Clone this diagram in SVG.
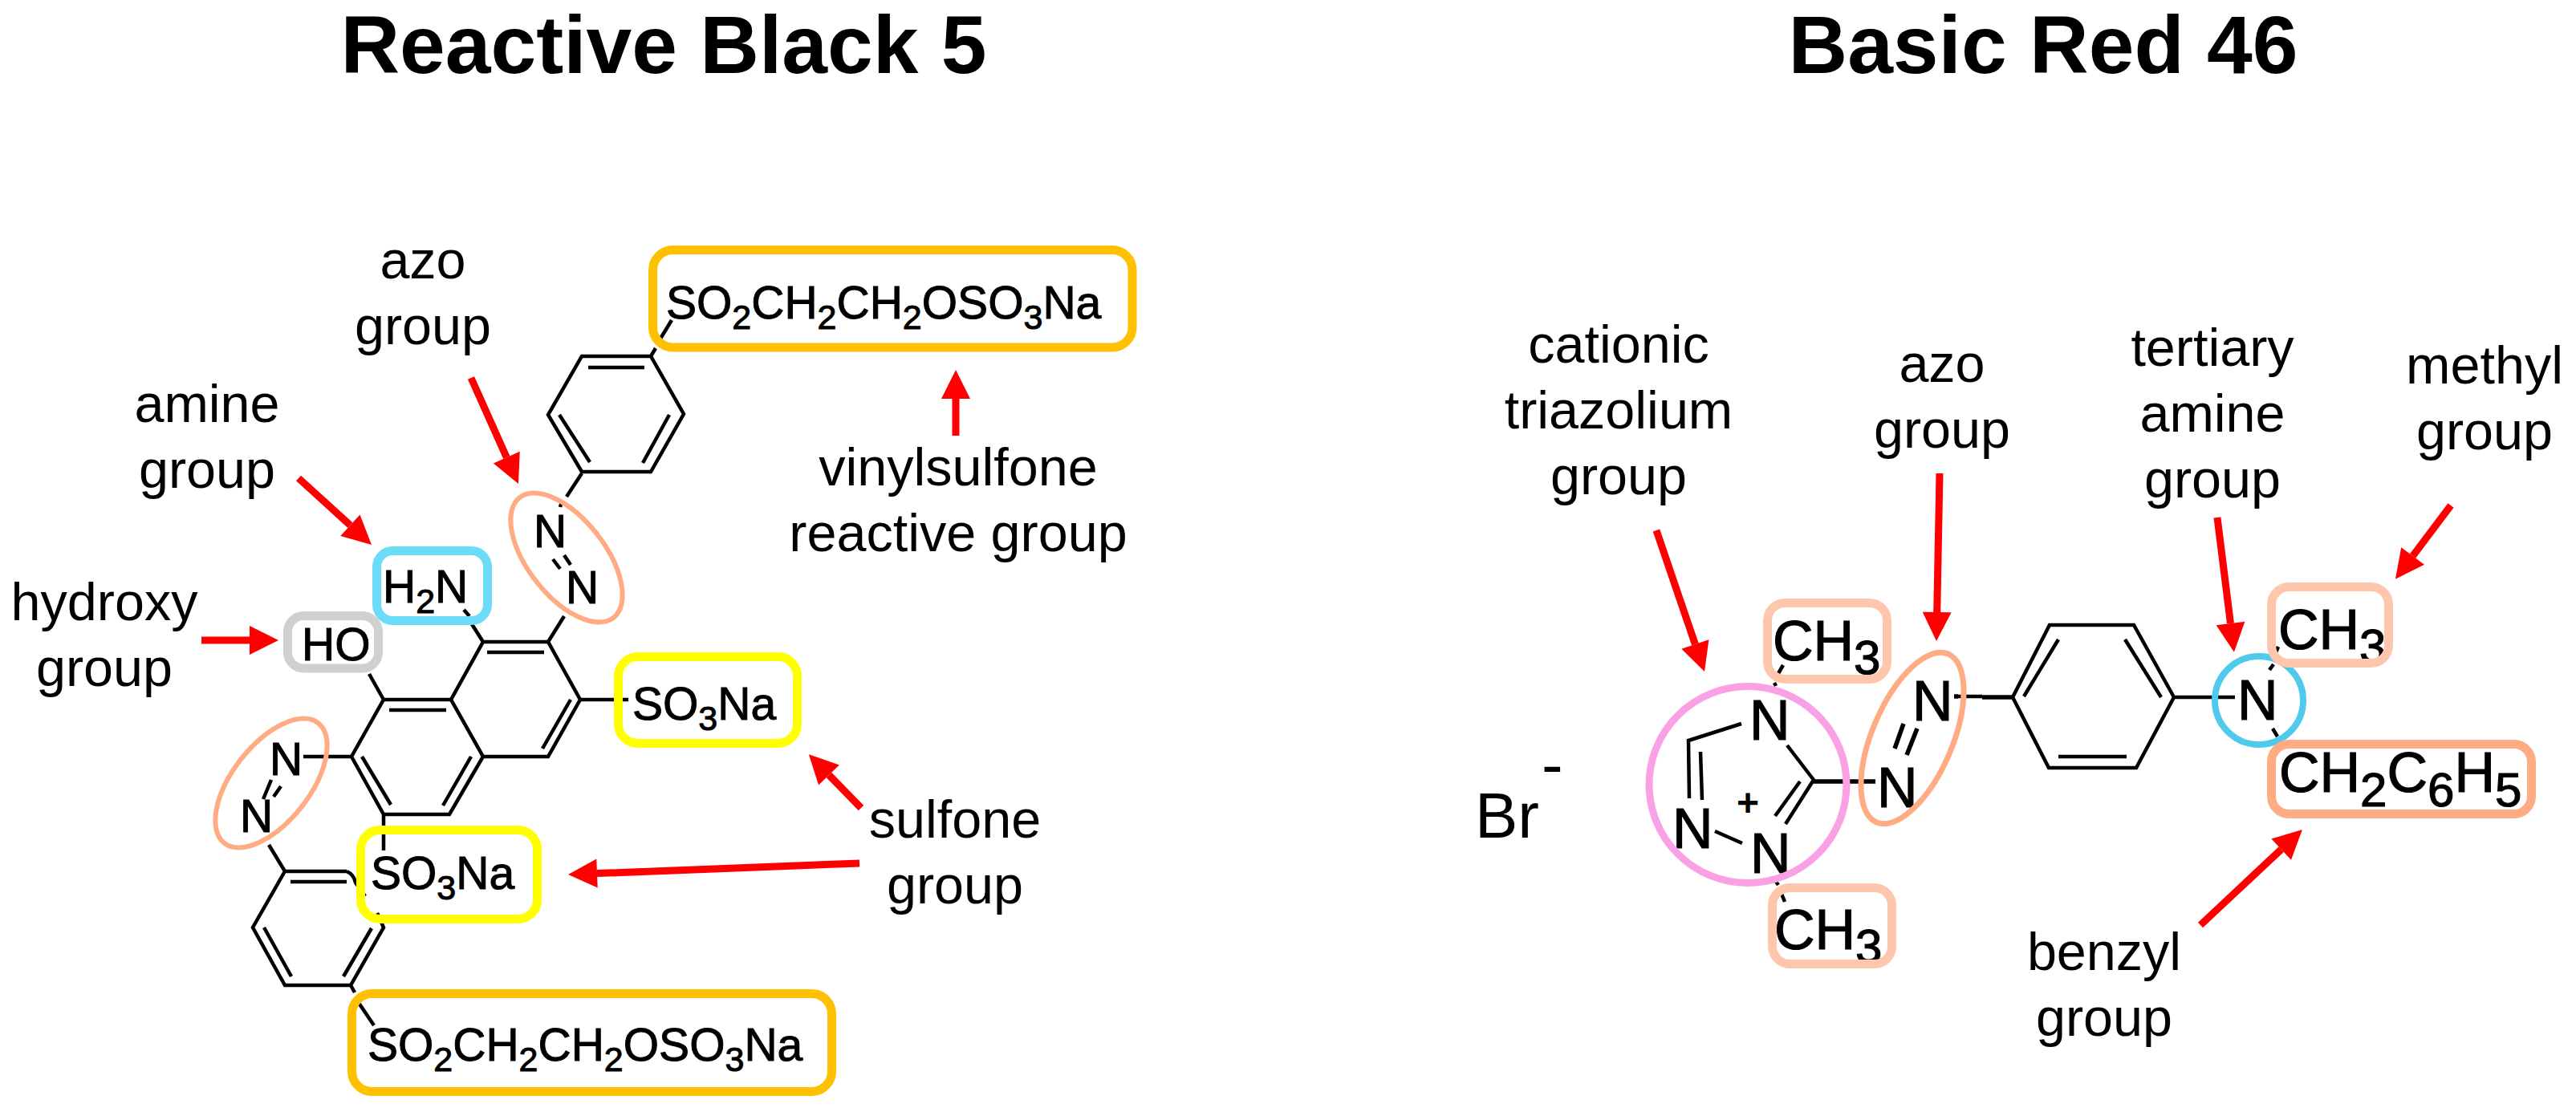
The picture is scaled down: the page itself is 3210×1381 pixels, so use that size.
<svg xmlns="http://www.w3.org/2000/svg" width="3210" height="1381" viewBox="0 0 3210 1381">
<style>
text{font-family:"Liberation Sans",Arial,sans-serif;fill:#000}
.title{font-size:102px;font-weight:700;text-anchor:middle}
.lab{font-size:66.5px;text-anchor:middle}
.m1{font-size:57px;stroke:#000;stroke-width:1}
.m1 tspan.s{font-size:43px}
.m2{font-size:70px;stroke:#000;stroke-width:1.200}
.m2 tspan.s{font-size:60px}
.bond{fill:none;stroke:#000;stroke-width:4.500;stroke-linejoin:miter}
.bold{stroke-width:5.500}
.hl{fill:none;stroke-width:11}
.or{stroke:#FFC000}.ye{stroke:#FFFF00}.bl{stroke:#6BDCF8}.gr{stroke:#D0D0D0}.pe{stroke:#FFC6AE}.ap{stroke:#FFAB84}
.arrow{stroke:#F00;stroke-width:9;fill:none;marker-end:url(#head)}
</style>
<defs>
<marker id="head" markerUnits="userSpaceOnUse" markerWidth="38" markerHeight="36" refX="0" refY="18" orient="auto" overflow="visible"><path d="M0,0L36,18L0,36Z" fill="#F00"/></marker>
</defs>
<rect width="3210" height="1381" fill="#fff"/>
<g id="titles">
<text class="title" x="827" y="91">Reactive Black 5</text>
<text class="title" x="2546" y="91">Basic Red 46</text>
</g>
<g id="bonds-reactive-black">
<path class="bond" d="M725,444H811L852,516L811,588H725L683,517ZM733,458H803M697,517L735,576M834,517L801,577M811,444L817,434M823,422L837,399M725,590L706,619M700,625L698,632M689,697L698,709M703,692L711,704M703,768L683,800"/>
<path class="bond" d="M602,800H683L723,872L683,943H602L562,872ZM607,813H678M711,872L676,933M478,872H562L602,943L560,1015H478L438,943ZM485,885H556M587,943L552,1004M451,943L487,1003M460,840L478,872M578,760L585,768M588,778L602,800M723,872H783M378,943H438M478,1015V1060"/>
<path class="bond" d="M328,996L338,972M341,993L350,980M335,1053L355,1086M432,1086H355L315,1156L355,1228H437L478,1156L470,1138M455,1117L443,1100Q441,1090 432,1086M362,1099H432M329,1156L363,1217M463,1157L428,1217M437,1228L442,1237M447,1250L466,1278"/>
</g>
<g id="bonds-basic-red">
<path class="bond" d="M2222,829L2215,841M2211,851L2213,855M2213,1099L2216,1103M2220,1114L2224,1124M2170,902L2104,923L2105,995M2119,937L2121,997M2137,1036L2171,1051M2227,929L2260,972L2225,1027M2243,974L2212,1017"/>
<path class="bond bold" d="M2260,974H2337M2372,902L2361,933M2389,908L2376,941M2435,868H2440M2470,869H2508"/>
<path class="bond" d="M2440,868H2470M2508,869L2554,779H2659L2709,869L2662,957H2553L2508,869M2565,797L2522,868M2648,797L2693,869M2565,943H2650M2710,869H2757M2757,869H2785M2839,806L2836,813M2828,835L2833,828M2832,908L2838,918"/>
</g>
<g id="rb5-amine"><text class="m1" x="477" y="751">H<tspan class="s" dy="13">2</tspan><tspan dy="-13">N</tspan></text><rect class="hl bl" x="469.500" y="686.500" width="138" height="87" rx="20"/></g>
<g id="rb5-hydroxy"><text class="m1" x="376" y="823">HO</text><rect class="hl gr" x="358.500" y="767.500" width="113" height="65.500" rx="20"/></g>
<g id="rb5-vinylsulfone-top"><text class="m1" x="830" y="397">SO<tspan class="s" dy="13">2</tspan><tspan dy="-13">CH</tspan><tspan class="s" dy="13">2</tspan><tspan dy="-13">CH</tspan><tspan class="s" dy="13">2</tspan><tspan dy="-13">OSO</tspan><tspan class="s" dy="13">3</tspan><tspan dy="-13">Na</tspan></text><rect class="hl or" x="813.500" y="311.500" width="597.500" height="121.500" rx="25"/></g>
<g id="rb5-sulfone-right"><text class="m1" x="788" y="897">SO<tspan class="s" dy="13">3</tspan><tspan dy="-13">Na</tspan></text><rect class="hl ye" x="770.500" y="818.500" width="223" height="108" rx="24"/></g>
<g id="rb5-sulfone-left"><text class="m1" x="462" y="1108">SO<tspan class="s" dy="13">3</tspan><tspan dy="-13">Na</tspan></text><rect class="hl ye" x="449.500" y="1034.500" width="220" height="111" rx="24"/></g>
<g id="rb5-vinylsulfone-bottom"><text class="m1" x="458" y="1322">SO<tspan class="s" dy="13">2</tspan><tspan dy="-13">CH</tspan><tspan class="s" dy="13">2</tspan><tspan dy="-13">CH</tspan><tspan class="s" dy="13">2</tspan><tspan dy="-13">OSO</tspan><tspan class="s" dy="13">3</tspan><tspan dy="-13">Na</tspan></text><rect class="hl or" x="438.500" y="1238.500" width="598" height="122" rx="25"/></g>
<g id="rb5-azo-upper"><text class="m1" x="665" y="682">N</text><text class="m1" x="705" y="752">N</text><ellipse class="ap" cx="706" cy="695" rx="95" ry="48" transform="rotate(52 706 695)" fill="none" stroke-width="6"/></g>
<g id="rb5-azo-lower"><text class="m1" x="336" y="966">N</text><text class="m1" x="299" y="1037">N</text><ellipse class="ap" cx="338" cy="976" rx="95" ry="48" transform="rotate(-52 338 976)" fill="none" stroke-width="6"/></g>
<g id="br-ion"><text x="1838" y="1044" font-size="80">Br</text><text x="1921" y="980" font-size="80">-</text></g>
<g id="br46-triazolium"><text class="m2" x="2180" y="922">N</text><text class="m2" x="2084" y="1057">N</text><text class="m2" x="2181" y="1088">N</text><text x="2164" y="1017" font-size="48" font-weight="700">+</text><ellipse cx="2178" cy="978" rx="123" ry="122.500" fill="none" stroke="#F9A1E4" stroke-width="9"/></g>
<g id="br46-methyl-top"><text class="m2" x="2209" y="823">CH<tspan class="s" dy="17">3</tspan></text><rect class="hl pe" x="2202.500" y="751.500" width="149" height="95" rx="22"/></g>
<g id="br46-methyl-bottom"><text class="m2" x="2211" y="1183">CH<tspan class="s" dy="17">3</tspan></text><rect class="hl pe" x="2208.500" y="1106.500" width="149" height="95" rx="22"/></g>
<g id="br46-azo"><text class="m2" x="2339" y="1006">N</text><text class="m2" x="2383" y="898">N</text><ellipse class="ap" cx="2383" cy="920" rx="114" ry="50" transform="rotate(-67 2383 920)" fill="none" stroke-width="7"/></g>
<g id="br46-amine"><text class="m2" x="2788" y="897">N</text><ellipse cx="2815" cy="873" rx="55" ry="55" fill="none" stroke="#4FC9EC" stroke-width="8"/></g>
<g id="br46-methyl-right"><text class="m2" x="2839" y="809">CH<tspan class="s" dy="17">3</tspan></text><rect class="hl pe" x="2830.500" y="731.500" width="146" height="95" rx="22"/></g>
<g id="br46-benzyl"><text class="m2" x="2840" y="987">CH<tspan class="s" dy="18">2</tspan><tspan dy="-18">C</tspan><tspan class="s" dy="18">6</tspan><tspan dy="-18">H</tspan><tspan class="s" dy="18">5</tspan></text><rect class="hl ap" x="2830.500" y="927.500" width="324" height="87" rx="22"/></g>
<g id="labels">
<text class="lab" x="527" y="347">azo</text><text class="lab" x="527" y="429">group</text>
<text class="lab" x="258" y="526">amine</text><text class="lab" x="258" y="608">group</text>
<text class="lab" x="130" y="773">hydroxy</text><text class="lab" x="130" y="855">group</text>
<text class="lab" x="1194" y="605">vinylsulfone</text><text class="lab" x="1194" y="687">reactive group</text>
<text class="lab" x="1190" y="1044">sulfone</text><text class="lab" x="1190" y="1126">group</text>
<text class="lab" x="2017" y="452">cationic</text><text class="lab" x="2017" y="534">triazolium</text><text class="lab" x="2017" y="616">group</text>
<text class="lab" x="2420" y="476">azo</text><text class="lab" x="2420" y="558">group</text>
<text class="lab" x="2757" y="456">tertiary</text><text class="lab" x="2757" y="538">amine</text><text class="lab" x="2757" y="620">group</text>
<text class="lab" x="3096" y="478">methyl</text><text class="lab" x="3096" y="560">group</text>
<text class="lab" x="2622" y="1209">benzyl</text><text class="lab" x="2622" y="1291">group</text>
</g>
<g id="connectors">
<line class="arrow" x1="587" y1="471" x2="631.300" y2="570.100"/>
<line class="arrow" x1="372" y1="596" x2="436.400" y2="654.700"/>
<line class="arrow" x1="251" y1="798" x2="311" y2="798"/>
<line class="arrow" x1="1191" y1="543" x2="1191" y2="497"/>
<line class="arrow" x1="1073" y1="1007" x2="1033" y2="966"/>
<line class="arrow" x1="1071" y1="1076" x2="744" y2="1088.600"/>
<line class="arrow" x1="2064" y1="661" x2="2112.400" y2="803"/>
<line class="arrow" x1="2417" y1="590" x2="2413.700" y2="763"/>
<line class="arrow" x1="2763" y1="645" x2="2779.500" y2="777"/>
<line class="arrow" x1="3054" y1="630" x2="3006.600" y2="693"/>
<line class="arrow" x1="2742" y1="1153" x2="2842.700" y2="1058.600"/>
</g>
</svg>
